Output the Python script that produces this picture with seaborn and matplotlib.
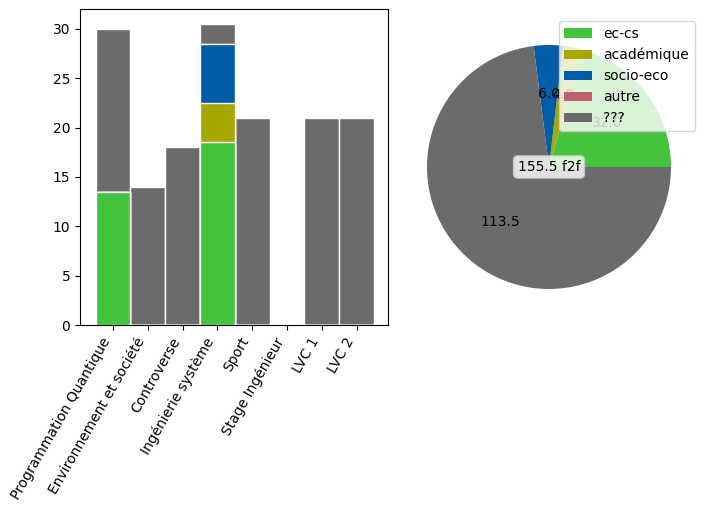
import matplotlib
matplotlib.use("Agg")
import matplotlib.pyplot as plt
import seaborn as sns
import numpy as np
import pandas as pd

courses = ["Programmation Quantique", "Environnement et société", "Controverse",
           "Ingénierie système", "Sport", "Stage Ingénieur", "LVC 1", "LVC 2"]
ec_cs = [13.5, 0, 0, 18.5, 0, 0, 0, 0]
academique = [0, 0, 0, 4, 0, 0, 0, 0]
socio_eco = [0, 0, 0, 6, 0, 0, 0, 0]
autre = [0, 0, 0, 0, 0, 0, 0, 0]
inconnu = [16.5, 14, 18, 2, 21, 0, 21, 21]

series_names = ["ec-cs", "académique", "socio-eco", "autre", "???"]
series_vals = [ec_cs, academique, socio_eco, autre, inconnu]
colors = ["#44c43c", "#a6a800", "#005ea8", "#bf6170", "#6b6b6b"]
center_suffix = "f2f"

fig = plt.figure(figsize=(7.11, 5.11), dpi=100)
ax1 = fig.add_axes([80/711, (511-325)/511, (388-80)/711, (325-9)/511])
ax2 = fig.add_axes([396.5/711, (511-319.5)/511, 305/711, 305/511])

# stacked bars via cumulative overlay (top layer first)
cum = np.cumsum(np.array(series_vals, dtype=float), axis=0)
for i in reversed(range(len(series_names))):
    df = pd.DataFrame({"course": courses, "value": cum[i]})
    sns.barplot(data=df, x="course", y="value", color=colors[i], width=1.0,
                edgecolor="white", linewidth=1, saturation=1, ax=ax1)
ax1.set_xlabel("")
ax1.set_ylabel("")
ax1.set_xlim(-0.95, 7.9)
ax1.set_ylim(0, 32.0)
ax1.set_yticks([0, 5, 10, 15, 20, 25, 30])
ax1.set_xticks(range(len(courses)))
ax1.set_xticklabels(courses, rotation=60, ha="right")

# pie
totals = [sum(v) for v in series_vals]
grand = sum(totals)
wedges, texts, autotexts = ax2.pie(
    totals, colors=colors, labels=None,
    autopct=lambda p: "" if p < 1e-9 else f"{p*grand/100:.1f}",
    pctdistance=0.6, startangle=0, counterclock=True)
ax2.set_xlim(-1.25, 1.25)
ax2.set_ylim(-1.25, 1.25)
ax2.set_aspect("equal")
ax2.text(0, 0, f"{grand:.1f} {center_suffix}", ha="center", va="center", fontsize=10,
         bbox=dict(boxstyle="round", facecolor="white", edgecolor="#cccccc", alpha=0.8))
ax2.legend(wedges, series_names, loc="upper right")

fig.savefig("out.png", dpi=100)
